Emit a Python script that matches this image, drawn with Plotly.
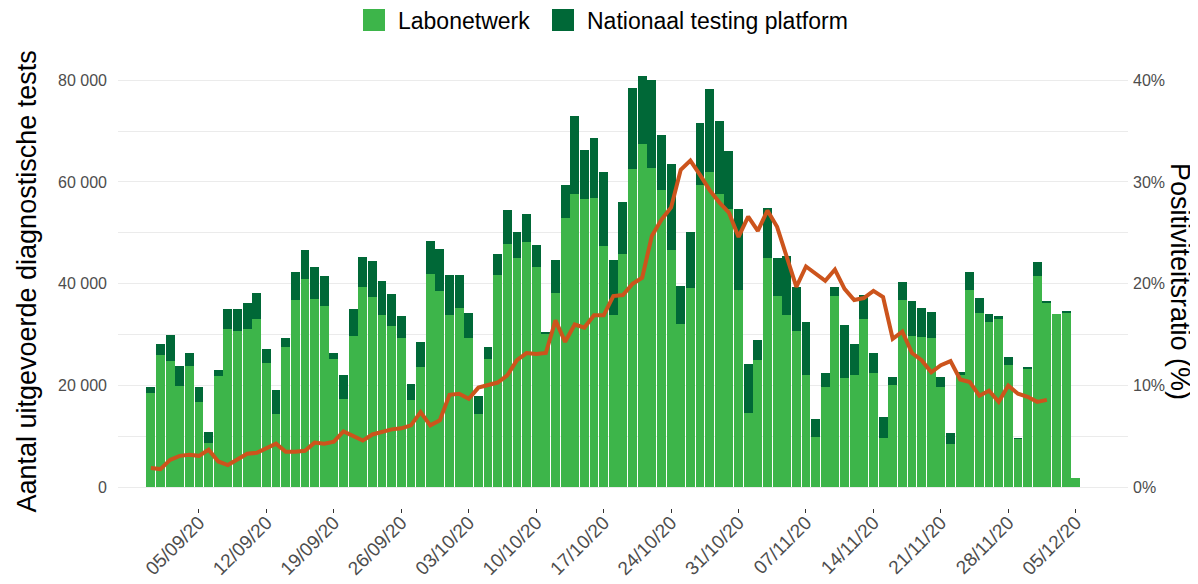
import pandas as pd
import plotly.graph_objects as go

dates = pd.date_range("2020-08-31", "2020-12-05", freq="D")

# thousands of tests
labonetwerk_k = [
    18.5, 26.1, 24.9, 20.0, 23.9, 16.8, 8.65, 21.8, 31.1, 30.8,
    31.1, 33.0, 24.4, 14.4, 27.5, 36.8, 41.0, 37.1, 35.6, 25.3,
    17.4, 29.8, 39.4, 37.4, 33.8, 31.8, 29.3, 17.1, 23.6, 41.9,
    38.6, 33.9, 35.3, 29.3, 14.5, 25.2, 41.7, 47.9, 45.0, 48.2,
    43.3, 30.2, 38.1, 52.9, 57.6, 56.6, 56.9, 47.5, 33.9, 45.9,
    62.6, 67.4, 62.8, 58.5, 46.6, 32.1, 39.1, 59.5, 62.0, 57.6,
    54.7, 38.8, 14.7, 25.1, 45.1, 37.7, 33.9, 30.7, 22.0, 9.9,
    19.7, 37.7, 21.4, 22.0, 33.0, 22.5, 9.7, 20.1, 36.8, 29.7,
    29.5, 29.4, 19.7, 8.6, 22.0, 38.7, 34.3, 32.5, 33.0, 24.0,
    9.6, 23.3, 41.6, 36.2, 34.1, 34.3, 1.9,
]
ntp_k = [
    1.2, 2.1, 5.1, 3.9, 2.6, 2.9, 2.25, 1.3, 4.0, 4.2,
    5.1, 5.1, 2.8, 4.7, 1.9, 5.5, 5.7, 6.2, 5.9, 1.2,
    4.6, 5.2, 5.8, 7.1, 6.8, 6.1, 4.3, 3.3, 5.0, 6.5,
    8.2, 7.9, 6.5, 5.0, 3.5, 2.3, 4.2, 6.6, 5.2, 5.5,
    4.3, 0.2, 6.5, 6.6, 15.4, 9.7, 11.7, 14.4, 10.7, 10.1,
    15.8, 13.5, 17.2, 10.7, 17.0, 7.5, 11.1, 12.0, 16.2, 14.4,
    11.4, 15.8, 9.5, 3.8, 9.7, 7.4, 11.6, 8.7, 10.4, 3.5,
    2.8, 1.6, 10.5, 6.2, 4.8, 4.0, 4.2, 1.5, 3.6, 6.9,
    5.8, 5.1, 1.9, 2.1, 0.6, 3.6, 2.9, 1.6, 0.6, 1.6,
    0.1, 0.3, 2.7, 0.4, 0.0, 0.4, 0.0,
]
positiviteit = [
    1.9, 1.8, 2.7, 3.1, 3.2, 3.1, 3.7, 2.55, 2.2, 2.8,
    3.3, 3.4, 3.9, 4.3, 3.5, 3.5, 3.6, 4.4, 4.3, 4.5,
    5.5, 5.1, 4.6, 5.2, 5.5, 5.7, 5.8, 6.1, 7.4, 6.1,
    6.6, 9.1, 9.2, 8.7, 9.8, 10.0, 10.3, 11.0, 12.5, 13.2,
    13.1, 13.2, 16.4, 14.3, 16.0, 15.7, 16.9, 16.9, 18.8, 18.9,
    20.0, 20.6, 24.7, 26.3, 27.5, 31.2, 32.1, 30.7, 29.2, 28.0,
    27.0, 24.6, 26.6, 25.2, 27.2, 25.6, 22.7, 19.7, 21.7, 21.0,
    20.3, 21.4, 19.5, 18.4, 18.6, 19.3, 18.7, 14.6, 15.3, 13.2,
    12.5, 11.3, 12.0, 12.4, 10.6, 10.35, 9.0, 9.5, 8.4, 10.0,
    9.2, 8.9, 8.4, 8.6, None, None, None,
]
tick_dates = pd.date_range("2020-09-05", "2020-12-05", freq="7D")
left_ticks = [0, 20000, 40000, 60000, 80000]
left_minor = [10000, 30000, 50000, 70000]
right_ticks = [0, 10, 20, 30, 40]
right_labels = ["0%", "10%", "20%", "30%", "40%"]

labonetwerk = [v * 1000 for v in labonetwerk_k]
ntp = [v * 1000 for v in ntp_k]

LIGHT = "#3db54a"
DARK = "#006837"
LINE = "#cc541c"
GRID = "#ebebeb"
FONT = "Liberation Sans, Arial, sans-serif"

fig = go.Figure()
fig.add_trace(go.Bar(x=dates, y=labonetwerk, name="Labonetwerk",
                     marker=dict(color=LIGHT, line=dict(width=0)), showlegend=False))
fig.add_trace(go.Bar(x=dates, y=ntp, name="Nationaal testing platform",
                     marker=dict(color=DARK, line=dict(width=0)), showlegend=False))
fig.add_trace(go.Scatter(x=dates, y=positiviteit, yaxis="y2", mode="lines",
                         line=dict(color=LINE, width=4), showlegend=False,
                         connectgaps=False))

day0 = dates[0]
x_start = day0 - pd.Timedelta(days=3.404)
x_end = day0 + pd.Timedelta(days=101.42)

ymin, ymax = -4045, 84945

# page has an 8px body margin, so the figure is 8px smaller than the window
fig.update_layout(
    width=1190, height=576, autosize=False,
    margin=dict(l=110, r=70, t=47, b=76, pad=0),
    paper_bgcolor="white", plot_bgcolor="white",
    barmode="stack", bargap=0.08,
    separators=", ",
    font=dict(family=FONT, color="#4d4d4d"),
    xaxis=dict(
        type="date", range=[x_start, x_end],
        tickvals=list(tick_dates), tickformat="%d/%m/%y",
        tickangle=-45, tickfont=dict(size=19, color="#4d4d4d"),
        ticks="outside", ticklen=4, tickcolor="#333333", tickwidth=1,
        showgrid=False, zeroline=False, showline=False, automargin=False,
        ticklabelstandoff=-9,
    ),
    yaxis=dict(
        range=[ymin, ymax], tickvals=left_ticks,
        tickformat=",d", tickfont=dict(size=16, color="#4d4d4d"),
        showgrid=True, gridcolor=GRID, gridwidth=1,
        minor=dict(tickvals=left_minor, showgrid=True,
                   gridcolor=GRID, gridwidth=1),
        zeroline=False, showline=False, ticks="", automargin=False,
        ticklabelstandoff=10,
    ),
    yaxis2=dict(
        range=[ymin / 2000, ymax / 2000], overlaying="y", side="right",
        tickvals=right_ticks, ticktext=right_labels,
        tickfont=dict(size=16, color="#4d4d4d"),
        showgrid=False, zeroline=False, showline=False, ticks="",
        automargin=False, ticklabelstandoff=4,
    ),
)

# axis titles
fig.add_annotation(text="Aantal uitgevoerde diagnostische tests", xref="paper", yref="paper",
                   x=-0.091, y=0.5, xanchor="center", yanchor="middle", textangle=-90,
                   showarrow=False, font=dict(size=27, color="black", family=FONT))
fig.add_annotation(text="Positiviteitsratio (%)", xref="paper", yref="paper",
                   x=1.052, y=0.5, xanchor="center", yanchor="middle", textangle=90,
                   showarrow=False, font=dict(size=27, color="black", family=FONT))

# legend (drawn at top centre)
def px_x(p):
    return (p - 118) / 1010

def px_y(p):
    return (508 - p) / 453

legend_items = [("Labonetwerk", LIGHT, 363), ("Nationaal testing platform", DARK, 552)]
for label, col, x0 in legend_items:
    fig.add_shape(type="rect", xref="paper", yref="paper",
                  x0=px_x(x0), x1=px_x(x0 + 22), y0=px_y(31), y1=px_y(9),
                  fillcolor=col, line=dict(width=0))
    fig.add_annotation(text=label, xref="paper", yref="paper",
                       x=px_x(x0 + 33), y=px_y(21), xanchor="left", yanchor="middle",
                       showarrow=False, font=dict(size=23, color="black", family=FONT))

fig.write_html("out.html")
